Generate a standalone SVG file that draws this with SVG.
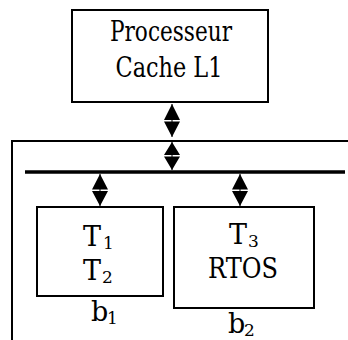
<svg xmlns="http://www.w3.org/2000/svg" width="348" height="340" viewBox="0 0 348 340">
<style>
.box{fill:#fff;stroke:#000;stroke-width:2}
text{font-family:'DejaVu Serif','Liberation Serif',serif;font-size:27px;fill:#000}
.c{text-anchor:middle}
.sub{font-size:17px}
.ah{fill:#000}
.shaft{stroke:#000;stroke-width:1}
</style>
<rect width="348" height="340" fill="#fff"/>
<g id="frame">
<path d="M12,340 V141 H348" fill="none" stroke="#000" stroke-width="2"/>
</g>
<g id="processeur">
<rect class="box" x="72" y="10" width="196" height="92"/>
<text class="c" x="171" y="41" textLength="122" lengthAdjust="spacingAndGlyphs">Processeur</text>
<text class="c" x="169" y="77" textLength="107" lengthAdjust="spacingAndGlyphs">Cache L1</text>
</g>
<g id="b1">
<rect class="box" x="37" y="207" width="126" height="89"/>
<text x="83" y="246">T<tspan class="sub" x="103" y="249">1</tspan></text>
<text x="83" y="280">T<tspan class="sub" x="102" y="283">2</tspan></text>
<text x="91" y="321">b<tspan class="sub" x="107" y="324">1</tspan></text>
</g>
<g id="b2">
<rect class="box" x="174" y="207" width="140" height="101"/>
<text x="229" y="244">T<tspan class="sub" x="248" y="247">3</tspan></text>
<text class="c" x="243" y="278" textLength="70" lengthAdjust="spacingAndGlyphs">RTOS</text>
<text x="228" y="333">b<tspan class="sub" x="244" y="336">2</tspan></text>
</g>
<g id="connectors">
<line x1="25" y1="172" x2="345" y2="172" stroke="#000" stroke-width="3.5"/>
<line class="shaft" x1="172" y1="104" x2="172" y2="137"/>
<path class="ah" d="M164,120 L172,104 L180,120 Z M164,121.5 L172,137 L180,121.5 Z"/>
<line class="shaft" x1="172" y1="142" x2="172" y2="170"/>
<path class="ah" d="M164,155 L172,142 L180,155 Z M164,156.5 L172,170 L180,156.5 Z"/>
<line class="shaft" x1="100" y1="174" x2="100" y2="206"/>
<path class="ah" d="M92,189.5 L100,174 L108,189.5 Z M92,191 L100,206 L108,191 Z"/>
<line class="shaft" x1="240" y1="174" x2="240" y2="206"/>
<path class="ah" d="M232,189.5 L240,174 L248,189.5 Z M232,191 L240,206 L248,191 Z"/>
</g>
</svg>
